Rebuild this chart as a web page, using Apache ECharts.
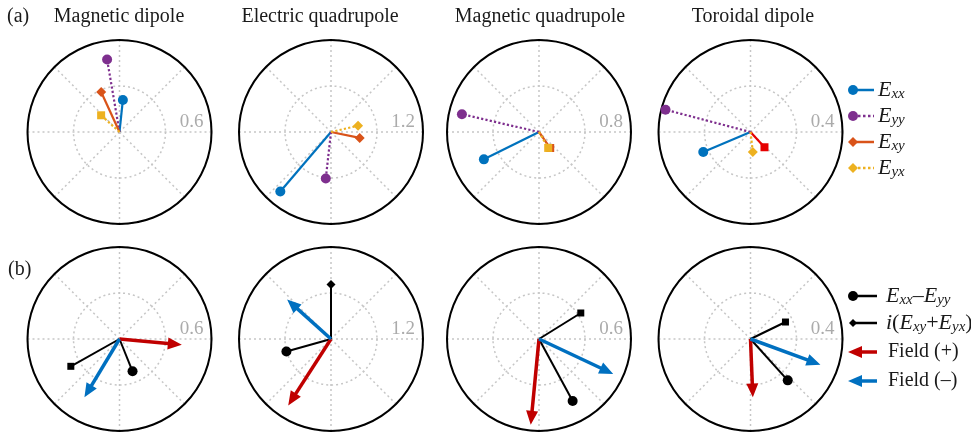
<!DOCTYPE html>
<html>
<head>
<meta charset="utf-8">
<script src="https://cdn.jsdelivr.net/npm/echarts@6/dist/echarts.min.js"></script>
<style>
  html, body { margin: 0; padding: 0; background: #fff; }
  #chart { width: 971px; height: 434px; }
</style>
</head>
<body>
<div id="chart"></div>
<script>
// Multipole panels and their radial ranges
const panelTitles = ['Magnetic dipole', 'Electric quadrupole', 'Magnetic quadrupole', 'Toroidal dipole'];
const rowTags = ['(a)', '(b)'];
const rangeA = [0.6, 1.2, 0.8, 0.4];
const rangeB = [0.6, 1.2, 0.6, 0.4];

// Complex coefficients as [amplitude, phase in degrees], one entry per panel
const Exx = [[0.21, 84], [1.02, 229.6], [0.535, 206.4], [0.223, 202.9]];
const Eyy = [[0.48, 99.7], [0.61, 263.6], [0.688, 167], [0.382, 165.3]];
const Exy = [[0.287, 114.6], [0.382, 348.3], [0.17, 305], [0.09, 312.5]];
const Eyx = [[0.162, 137.7], [0.362, 13], [0.16, 300], [0.087, 276.6]];

// Combinations and resulting field responses
const diffXXYY = [[0.227, 292], [0.604, 195.7], [0.46, 298.5], [0.242, 312]];
const sumXYYX = [[0.364, 209.3], [0.71, 90], [0.321, 31.9], [0.169, 25.9]];
const fieldPlus = [[0.408, 354.8], [1.03, 237.2], [0.562, 264.5], [0.254, 272.3]];
const fieldMinus = [[0.444, 239], [0.77, 138], [0.535, 334.8], [0.324, 339.8]];

// ---- layout & styling ----
const SERIF = '"Liberation Serif", "Times New Roman", serif';
const centersX = [119.5, 331, 539, 750.5];
const centersY = [132, 339];
const R = 92;
const GRID = '#c6c6c6';
const GRID_DASH = [2, 3];

const C_BLUE = '#0072BD', C_PURPLE = '#7E2F8E', C_ORANGE = '#D95319', C_YELLOW = '#EDB120';
const C_RED_ARROW = '#C00000', C_BLUE_ARROW = '#0070C0';

const styleA = [
  { data: Exx, colors: [C_BLUE, C_BLUE, C_BLUE, C_BLUE], dash: 'solid', symbols: ['circle', 'circle', 'circle', 'circle'] },
  { data: Eyy, colors: [C_PURPLE, C_PURPLE, C_PURPLE, C_PURPLE], dash: 'dotted', symbols: ['circle', 'circle', 'circle', 'circle'] },
  { data: Exy, colors: [C_ORANGE, C_ORANGE, C_ORANGE, '#E60000'], dash: 'solid', symbols: ['diamond', 'diamond', 'rect', 'rect'] },
  { data: Eyx, colors: [C_YELLOW, C_YELLOW, C_YELLOW, C_YELLOW], dash: 'dotted', symbols: ['rect', 'diamond', 'rect', 'diamond'] }
];
const symbolSizes = { circle: 10, diamond: 10, rect: 8 };
const sumSymbols = ['rect', 'diamond', 'rect', 'rect'];

// arrow head: tip at the box centre, body trailing below it
const ARROW_PATH = 'path://M0,14 L6,28 L-6,28 Z M0,0 L0.01,0 L0,0.01 Z';
const HEAD_LEN = 14;

const polar = [], angleAxis = [], radiusAxis = [], series = [], graphic = [];

function addPolar(idx, cx, cy, maxR) {
  polar[idx] = { center: [cx, cy], radius: R };
  angleAxis[idx] = {
    polarIndex: idx, type: 'value', min: 0, max: 360, interval: 45,
    startAngle: 0, clockwise: false, z: 1,
    axisLine: { show: true, lineStyle: { color: '#000', width: 2 } },
    axisTick: { show: false }, axisLabel: { show: false },
    splitLine: { show: true, lineStyle: { color: GRID, type: GRID_DASH, width: 1.5 } }
  };
  radiusAxis[idx] = {
    polarIndex: idx, type: 'value', min: 0, max: maxR, interval: maxR / 2, z: 0,
    axisLine: { show: false }, axisTick: { show: false }, axisLabel: { show: false },
    splitLine: { show: true, lineStyle: { color: GRID, type: GRID_DASH, width: 1.5 } }
  };
  graphic.push({
    type: 'text', x: cx + 84, y: cy - 10, silent: true,
    style: { text: String(maxR), font: '19px ' + SERIF, fill: '#ababab', align: 'right', verticalAlign: 'middle', textAlign: 'right', textVerticalAlign: 'middle' }
  });
}

function vector(pi, pt, color, dash, width, symbol, size) {
  series.push({
    type: 'line', coordinateSystem: 'polar', polarIndex: pi, silent: true, animation: false,
    symbol: symbol, symbolSize: size,
    lineStyle: { color: color, width: width, type: dash },
    itemStyle: { color: color },
    data: [{ value: [0, pt[1]], symbol: 'none' }, { value: [pt[0], pt[1]] }]
  });
}

function arrow(pi, pt, maxR, color) {
  const shaftEnd = pt[0] - (HEAD_LEN - 3) * maxR / R;
  series.push({
    type: 'line', coordinateSystem: 'polar', polarIndex: pi, silent: true, animation: false,
    symbol: 'none', lineStyle: { color: color, width: 3.5, cap: 'butt' },
    data: [[0, pt[1]], [shaftEnd, pt[1]]]
  });
  series.push({
    type: 'line', coordinateSystem: 'polar', polarIndex: pi, silent: true, animation: false,
    symbol: ARROW_PATH, symbolSize: [12, 28], symbolKeepAspect: false,
    symbolRotate: pt[1] - 90,
    lineStyle: { width: 0 }, itemStyle: { color: color },
    data: [[pt[0], pt[1]]]
  });
}

for (let c = 0; c < 4; c++) {
  // row (a): individual tensor components
  const ia = c;
  addPolar(ia, centersX[c], centersY[0], rangeA[c]);
  styleA.forEach(s => {
    const sym = s.symbols[c];
    vector(ia, s.data[c], s.colors[c], s.dash, 2.2, sym, symbolSizes[sym]);
  });
  // row (b): combinations and field arrows
  const ib = 4 + c;
  addPolar(ib, centersX[c], centersY[1], rangeB[c]);
  vector(ib, diffXXYY[c], '#000', 'solid', 2, 'circle', 10);
  vector(ib, sumXYYX[c], '#000', 'solid', 2, sumSymbols[c], sumSymbols[c] === 'rect' ? 7 : 9);
  arrow(ib, fieldPlus[c], rangeB[c], C_RED_ARROW);
  arrow(ib, fieldMinus[c], rangeB[c], C_BLUE_ARROW);

  graphic.push({
    type: 'text', x: [119, 320, 540, 753][c], y: 17, silent: true,
    style: { text: panelTitles[c], font: '20px ' + SERIF, fill: '#1a1a1a', align: 'center', verticalAlign: 'middle', textAlign: 'center', textVerticalAlign: 'middle' }
  });
}

graphic.push({ type: 'text', x: 7, y: 17, silent: true, style: { text: rowTags[0], font: '20px ' + SERIF, fill: '#1a1a1a', verticalAlign: 'middle', textVerticalAlign: 'middle' } });
graphic.push({ type: 'text', x: 8, y: 270, silent: true, style: { text: rowTags[1], font: '20px ' + SERIF, fill: '#1a1a1a', verticalAlign: 'middle', textVerticalAlign: 'middle' } });

// ---- legends ----
const richSub = {
  e: { fontFamily: SERIF, fontStyle: 'italic', fontSize: 22, fill: '#1a1a1a' },
  s: { fontFamily: SERIF, fontStyle: 'italic', fontSize: 15, fill: '#1a1a1a', padding: [9, 0, 0, 0] },
  n: { fontFamily: SERIF, fontSize: 22, fill: '#1a1a1a' },
  m: { fontFamily: SERIF, fontSize: 20, fill: '#1a1a1a' }
};
function legendText(x, y, text) {
  graphic.push({ type: 'text', x: x, y: y, silent: true, style: { text: text, rich: richSub, verticalAlign: 'middle', textVerticalAlign: 'middle' } });
}
function legendLine(x1, x2, y, color, dash, w) {
  graphic.push({ type: 'line', silent: true, shape: { x1: x1, y1: y, x2: x2, y2: y }, style: { stroke: color, lineWidth: w, lineDash: dash } });
}
function legendMarker(kind, x, y, size, color) {
  if (kind === 'circle') {
    graphic.push({ type: 'circle', silent: true, shape: { cx: x, cy: y, r: size / 2 }, style: { fill: color } });
  } else {
    const h = size / 2;
    graphic.push({ type: 'polygon', silent: true, shape: { points: [[x, y - h], [x + h, y], [x, y + h], [x - h, y]] }, style: { fill: color } });
  }
}

const legA = [
  { y: 90, color: C_BLUE, dash: null, mk: 'circle', text: '{e|E}{s|xx}' },
  { y: 116, color: C_PURPLE, dash: [2.5, 2.5], mk: 'circle', text: '{e|E}{s|yy}' },
  { y: 142, color: C_ORANGE, dash: null, mk: 'diamond', text: '{e|E}{s|xy}' },
  { y: 168, color: C_YELLOW, dash: [2.5, 2.5], mk: 'diamond', text: '{e|E}{s|yx}' }
];
legA.forEach(l => {
  legendLine(853, 874, l.y, l.color, l.dash, 2.5);
  legendMarker(l.mk, 853, l.y, 10, l.color);
  legendText(878, l.y, l.text);
});

legendLine(853, 877, 296, '#000', null, 2.5);
legendMarker('circle', 853, 296, 10, '#000');
legendText(886, 296, '{e|E}{s|xx}{n|–}{e|E}{s|yy}');
legendLine(853, 877, 323, '#000', null, 2.5);
legendMarker('diamond', 853, 323, 8, '#000');
legendText(886, 323, '{e|i}{n|(}{e|E}{s|xy}{n|+}{e|E}{s|yx}{n|)}');

function legendArrow(y, color) {
  graphic.push({ type: 'line', silent: true, shape: { x1: 860, y1: y, x2: 877, y2: y }, style: { stroke: color, lineWidth: 3.5 } });
  graphic.push({ type: 'polygon', silent: true, shape: { points: [[848, y], [862, y - 6], [862, y + 6]] }, style: { fill: color } });
}
legendArrow(352, C_RED_ARROW);
legendText(888, 352, '{m|Field (+)}');
legendArrow(381, C_BLUE_ARROW);
legendText(888, 381, '{m|Field (–)}');

const chart = echarts.init(document.getElementById('chart'), null, { renderer: 'canvas' });
chart.setOption({
  backgroundColor: '#fff',
  animation: false,
  polar: polar,
  angleAxis: angleAxis,
  radiusAxis: radiusAxis,
  series: series,
  graphic: { elements: graphic }
});
</script>
</body>
</html>
